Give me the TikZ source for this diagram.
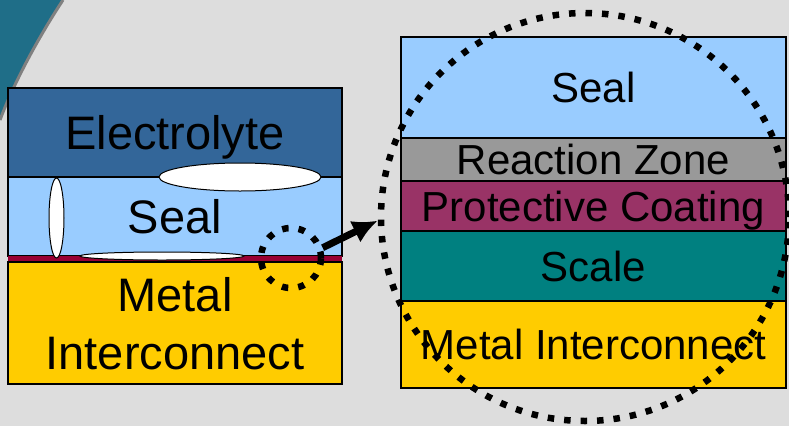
\documentclass[tikz,border=0pt]{standalone}
\usepackage{fontspec}
\setmainfont{Liberation Sans}
\usetikzlibrary{arrows.meta}

\definecolor{bg}{HTML}{DDDDDD}
\definecolor{slide}{HTML}{1F6E88}
\definecolor{electrolyte}{HTML}{336699}
\definecolor{seal}{HTML}{99CCFF}
\definecolor{strip}{HTML}{990033}
\definecolor{metal}{HTML}{FFCC00}
\definecolor{zone}{HTML}{999999}
\definecolor{coating}{HTML}{993366}
\definecolor{scalecol}{HTML}{008080}

\tikzstyle{layer} = [rectangle, draw, line width=1.2pt, inner sep=0pt, text depth=0pt, align=center]
\tikzstyle{txtL} = [font=\fontsize{47}{58}\selectfont]
\tikzstyle{txtR} = [font=\fontsize{42}{46}\selectfont]
\tikzstyle{void} = [draw, fill=white, line width=1pt]
\tikzstyle{lens} = [circle, draw, line width=6.5pt, dash pattern=on 6.5pt off 10pt, inner sep=0pt]

\begin{document}
\begin{tikzpicture}[x=1pt, y=-1pt]
    \fill[bg] (0,0) rectangle (789,426);
    \useasboundingbox (0,0) rectangle (789,426);
    \fill[slide] (0,0) -- (63,0) .. controls (40,35) and (15,80) .. (0,120) -- cycle;
    \draw[gray, line width=3pt] (63,0) .. controls (40,35) and (15,80) .. (0,120);

    % left stack
    \node[layer, txtL, fill=electrolyte, minimum width=334pt, minimum height=89pt] (E1) at (175,132.5) {Electrolyte};
    \node[layer, txtL, fill=seal, minimum width=334pt, minimum height=79pt] (S1) at (175,216.5) {Seal};
    \node[layer, draw=none, fill=strip, minimum width=334pt, minimum height=7pt] (R1) at (175,259.5) {};
    \node[layer, txtL, fill=metal, minimum width=334pt, minimum height=122pt] (M1) at (175,323) {Metal\\Interconnect};
    \draw[void] (240,177) ellipse [x radius=81, y radius=14];
    \draw[void] (56.5,218) ellipse [x radius=7.5, y radius=40];
    \draw[void] (162,256) ellipse [x radius=82, y radius=4];

    % right stack
    \node[layer, txtR, fill=seal, minimum width=385pt, minimum height=101pt] (S2) at (593.5,87.5) {Seal};
    \node[layer, txtR, fill=zone, minimum width=385pt, minimum height=43pt] (Z2) at (593.5,159.5) {Reaction Zone};
    \node[layer, txtR, fill=coating, minimum width=385pt, minimum height=50pt] (C2) at (593.5,206) {Protective Coating};
    \node[layer, txtR, fill=scalecol, minimum width=385pt, minimum height=70pt] (K2) at (593.5,266) {Scale};
    \node[layer, txtR, fill=metal, minimum width=385pt, minimum height=87pt] (M2) at (593.5,344.5) {Metal Interconnect};

    % zoom
    \node[lens, minimum size=60pt] (L1) at (291,258) {};
    \node[lens, minimum size=408pt] (L2) at (585,217) {};
    \draw[line width=7pt, -{Latex[length=25pt, width=24pt]}] (L1.18) -- (L2.181);
  \end{tikzpicture}
\end{document}
